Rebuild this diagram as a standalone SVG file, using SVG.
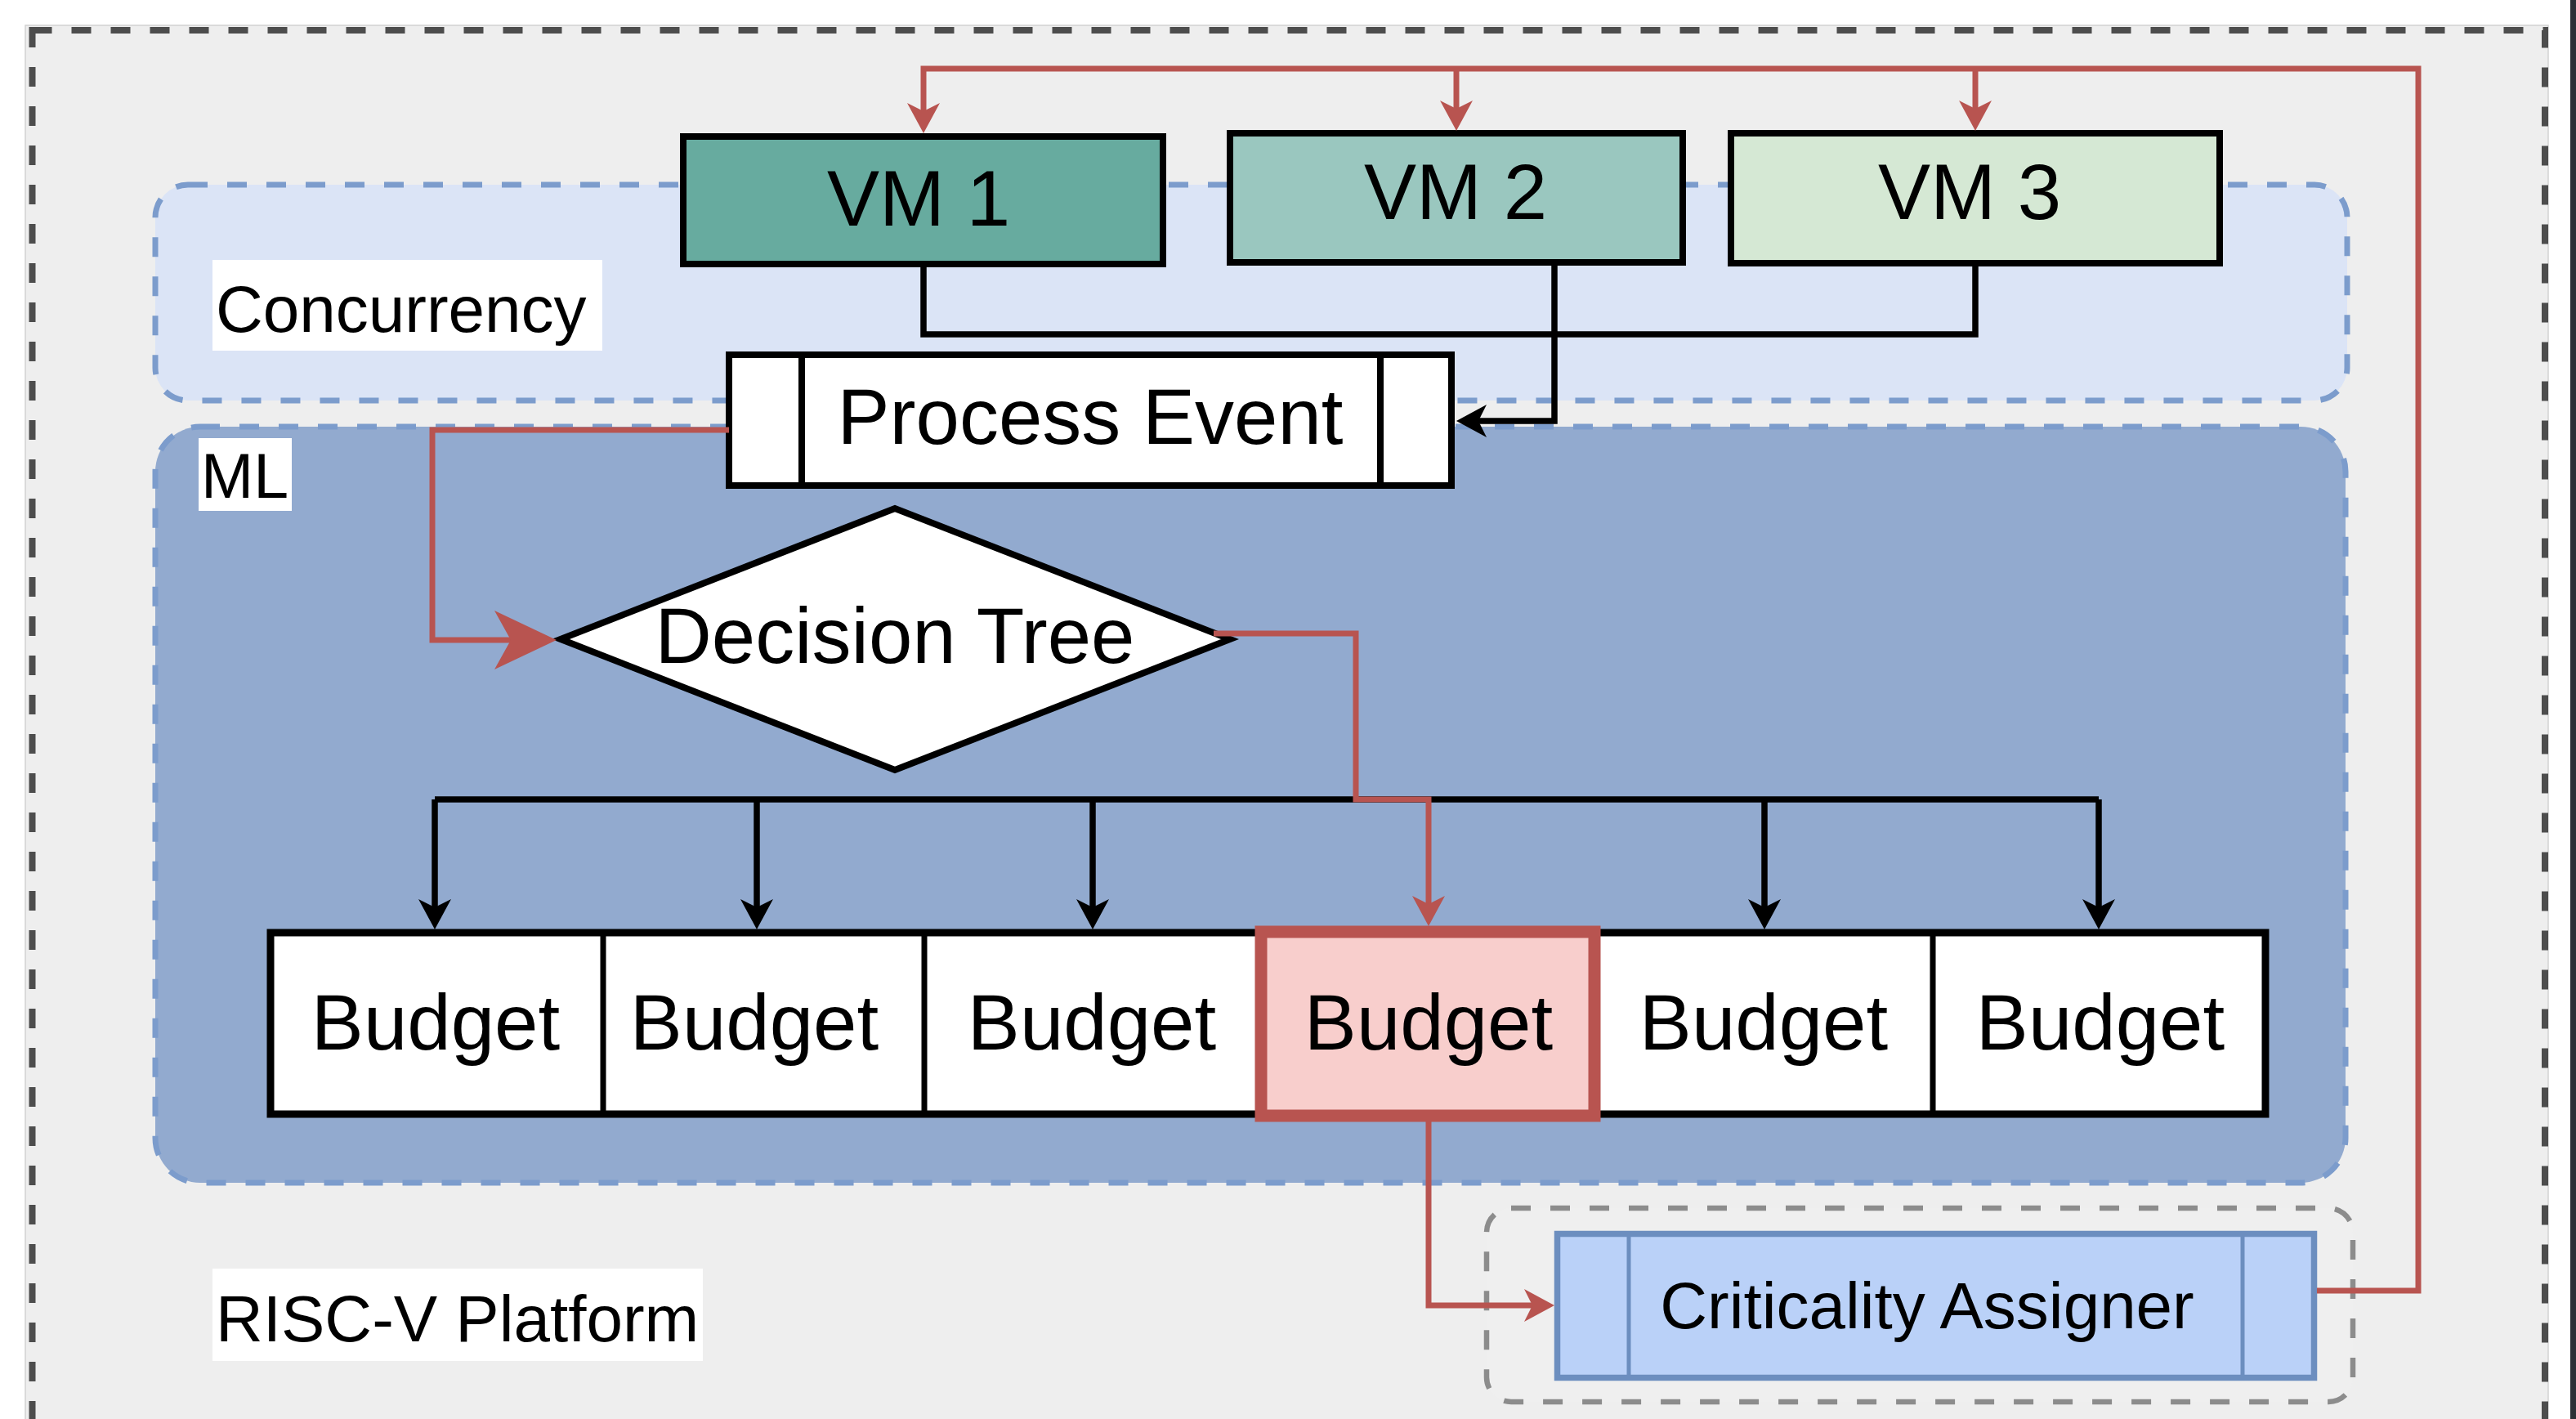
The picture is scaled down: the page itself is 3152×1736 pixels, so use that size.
<svg xmlns="http://www.w3.org/2000/svg" width="3152" height="1736" viewBox="0 0 3152 1736">
  <style>
    text { font-family: "Liberation Sans", Arial, sans-serif; fill: #000; }
    .node-text { font-size: 96px; text-anchor: middle; }
    .label-text { font-size: 80px; }
    .label-bg { fill: #FFFFFF; }
    .box { stroke: #000; stroke-width: 8; }
    .group-blue { stroke: #7C9CCC; stroke-width: 7; stroke-dasharray: 24 24; }
    .edge-black { fill: none; stroke: #000; stroke-width: 7.5; }
    .edge-red { fill: none; stroke: #B85450; stroke-width: 7; }
  </style>
  <defs>
    <marker id="arrow-black" markerUnits="userSpaceOnUse" orient="auto" refX="0" refY="0" markerWidth="60" markerHeight="60" overflow="visible">
      <path d="M27,0 L-10,-20 L0,0 L-10,20 Z" fill="#000"/>
    </marker>
    <marker id="arrow-red" markerUnits="userSpaceOnUse" orient="auto" refX="0" refY="0" markerWidth="60" markerHeight="60" overflow="visible">
      <path d="M27,0 L-10,-20 L0,0 L-10,20 Z" fill="#B85450"/>
    </marker>
    <marker id="arrow-red-large" markerUnits="userSpaceOnUse" orient="auto" refX="0" refY="0" markerWidth="100" markerHeight="100" overflow="visible">
      <path d="M56,0 L-20,-36 L0,0 L-20,36 Z" fill="#B85450"/>
    </marker>
  </defs>

  <!-- page frame -->
  <rect x="3145" y="0" width="7" height="1736" fill="#2B3035"/>
  <rect x="31" y="31" width="3087" height="1730" fill="#EEEEEE" stroke="#D2D2D2" stroke-width="1.5"/>

  <!-- RISC-V platform boundary -->
  <g id="platform">
    <rect x="39.5" y="37" width="3074.5" height="1760" fill="none" stroke="#4D4D4D" stroke-width="8" stroke-dasharray="24 24"/>
    <rect class="label-bg" x="260" y="1552" width="600" height="113"/>
    <text class="label-text" x="264" y="1641">RISC-V Platform</text>
  </g>

  <!-- Concurrency layer -->
  <g id="concurrency">
    <rect class="group-blue" x="190" y="226" width="2682" height="264" rx="40" ry="40" fill="#DBE4F6"/>
    <rect class="label-bg" x="260" y="318" width="477" height="111"/>
    <text class="label-text" x="264" y="406">Concurrency</text>
  </g>

  <!-- ML layer -->
  <g id="ml">
    <rect class="group-blue" x="190" y="522" width="2680" height="925" rx="55" ry="55" fill="#92AACF" stroke="#7B9DD0"/>
    <rect class="label-bg" x="243" y="536" width="114" height="89"/>
    <text x="246" y="609" font-size="77">ML</text>
  </g>

  <!-- criticality group -->
  <g id="criticality-group">
    <rect x="1819" y="1478" width="1060" height="237" rx="30" ry="30" fill="#EFEFEF" stroke="#8C8C8C" stroke-width="6.5" stroke-dasharray="24 24"/>
  </g>

  <!-- virtual machines -->
  <g id="vm1">
    <rect class="box" x="836" y="167" width="587" height="156" fill="#67AB9F"/>
    <text class="node-text" x="1124" y="276">VM 1</text>
  </g>
  <g id="vm2">
    <rect class="box" x="1505" y="163" width="554" height="158" fill="#9AC7BF"/>
    <text class="node-text" x="1781" y="268">VM 2</text>
  </g>
  <g id="vm3">
    <rect class="box" x="2118" y="163" width="598" height="159" fill="#D5E8D4"/>
    <text class="node-text" x="2410" y="268">VM 3</text>
  </g>

  <!-- event processing -->
  <g id="process-event">
    <rect class="box" x="892" y="434" width="884" height="160" fill="#FFFFFF"/>
    <line class="box" x1="981" y1="434" x2="981" y2="594" stroke-width="7"/>
    <line class="box" x1="1689" y1="434" x2="1689" y2="594" stroke-width="7"/>
    <text class="node-text" x="1334" y="543">Process Event</text>
  </g>

  <g id="decision-tree">
    <polygon class="box" points="686,782 1095,622 1505,782 1095,942" fill="#FFFFFF" stroke-width="8.5"/>
    <text class="node-text" x="1095" y="811">Decision Tree</text>
  </g>

  <!-- budget slots -->
  <g id="budgets">
    <rect x="331" y="1141" width="2441" height="222" fill="#FFFFFF" stroke="#000" stroke-width="9"/>
    <line x1="738" y1="1141" x2="738" y2="1363" stroke="#000" stroke-width="7"/>
    <line x1="1131" y1="1141" x2="1131" y2="1363" stroke="#000" stroke-width="7"/>
    <line x1="2365" y1="1141" x2="2365" y2="1363" stroke="#000" stroke-width="7"/>
    <g id="budget-1"><text class="node-text" x="533" y="1284">Budget</text></g>
    <g id="budget-2"><text class="node-text" x="923" y="1284">Budget</text></g>
    <g id="budget-3"><text class="node-text" x="1336" y="1284">Budget</text></g>
    <g id="budget-5"><text class="node-text" x="2158" y="1284">Budget</text></g>
    <g id="budget-6"><text class="node-text" x="2570" y="1284">Budget</text></g>
  </g>
  <g id="budget-4">
    <rect x="1543" y="1140" width="408" height="225" fill="#F8CECC" stroke="#B85450" stroke-width="15"/>
    <text class="node-text" x="1748" y="1284">Budget</text>
  </g>

  <g id="criticality-assigner">
    <rect x="1905.5" y="1509.5" width="926" height="176" fill="#BAD1F8" stroke="#6C8EBF" stroke-width="7.5"/>
    <line x1="1993" y1="1509.5" x2="1993" y2="1685.5" stroke="#6C8EBF" stroke-width="5"/>
    <line x1="2744" y1="1509.5" x2="2744" y2="1685.5" stroke="#6C8EBF" stroke-width="5"/>
    <text x="2358" y="1625" font-size="80" text-anchor="middle">Criticality Assigner</text>
  </g>

  <!-- connectors -->
  <g id="connectors">
    <!-- VMs to Process Event -->
    <path class="edge-black" d="M1130,323 V409 H2417 V322"/>
    <path class="edge-black" d="M1902,321 V515 H1809" marker-end="url(#arrow-black)"/>
    <!-- Decision Tree to budgets -->
    <path class="edge-black" d="M532,978 H2568"/>
    <path class="edge-black" d="M532,978 V1110" marker-end="url(#arrow-black)"/>
    <path class="edge-black" d="M926,978 V1110" marker-end="url(#arrow-black)"/>
    <path class="edge-black" d="M1337,978 V1110" marker-end="url(#arrow-black)"/>
    <path class="edge-black" d="M2159,978 V1110" marker-end="url(#arrow-black)"/>
    <path class="edge-black" d="M2568,978 V1110" marker-end="url(#arrow-black)"/>
    <!-- selected path -->
    <path class="edge-red" d="M892,526 H529 V783 H625" marker-end="url(#arrow-red-large)"/>
    <path class="edge-red" d="M1485,775 H1659 V978 H1748 V1106" marker-end="url(#arrow-red)"/>
    <path class="edge-red" d="M1748,1372 V1597 H1875" marker-end="url(#arrow-red)"/>
    <!-- criticality feedback to VMs -->
    <path class="edge-red" d="M2835,1579 H2959 V84 H1130 V136" marker-end="url(#arrow-red)"/>
    <path class="edge-red" d="M1782,84 V133" marker-end="url(#arrow-red)"/>
    <path class="edge-red" d="M2417,84 V133" marker-end="url(#arrow-red)"/>
  </g>
</svg>
